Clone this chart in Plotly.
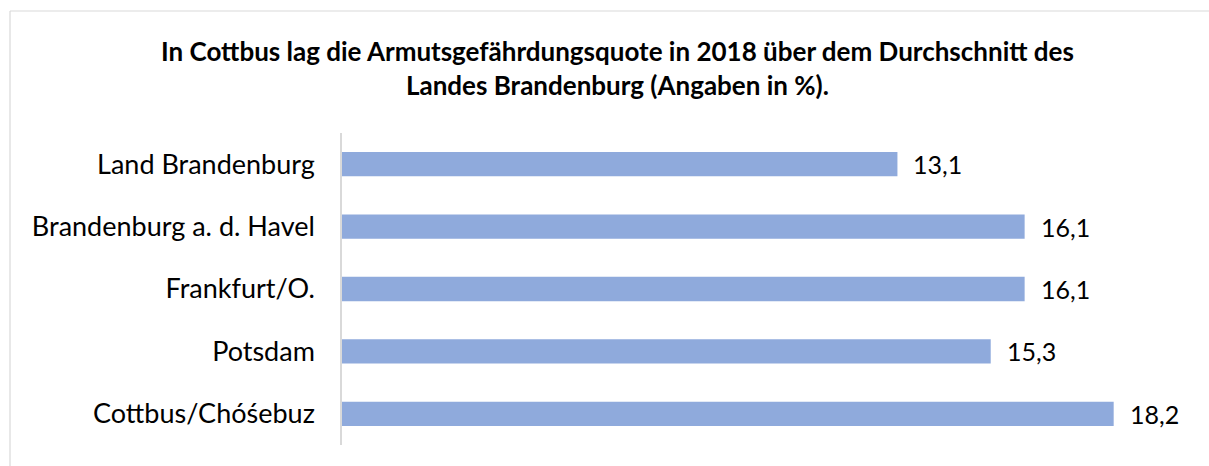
import plotly.graph_objects as go

categories = ["Land Brandenburg", "Brandenburg a. d. Havel", "Frankfurt/O.", "Potsdam", "Cottbus/Chóśebuz"]
values = [13.1, 16.1, 16.1, 15.3, 18.2]
title_text = ("<b>In Cottbus lag die Armutsgefährdungsquote in 2018 über dem Durchschnitt des<br>"
              "Landes Brandenburg (Angaben in %).</b>")

W, H = 1209, 466
L, R, T, B = 342, 19, 133, 21
FONT = "Lato, Calibri, sans-serif"

fig = go.Figure()
fig.add_trace(go.Bar(
    x=values, y=categories, orientation="h",
    marker=dict(color="#8FAADC", line=dict(width=0)),
    hoverinfo="skip",
))

for v, c in zip(values, categories):
    fig.add_annotation(
        x=v, y=c, xref="x", yref="y",
        text=f"{v:.1f}".replace(".", ","),
        showarrow=False, xanchor="left", yanchor="middle",
        xshift=14, font=dict(family=FONT, size=25, color="#000000"),
    )

px = lambda x: (x - L) / (W - L - R)
py = lambda y: 1 - (y - T) / (H - T - B)

# title as annotation (two centred lines)
fig.add_annotation(
    x=px(617), y=py(68), xref="paper", yref="paper",
    text=title_text, showarrow=False, xanchor="center", yanchor="middle",
    align="center", font=dict(family=FONT, size=26, color="#000000"),
)

# frame (top and left edges visible)
fig.add_shape(type="line", xref="paper", yref="paper",
              x0=px(10), x1=px(W + 5), y0=py(11), y1=py(11),
              line=dict(color="#D9D9D9", width=1.2))
fig.add_shape(type="line", xref="paper", yref="paper",
              x0=px(10), x1=px(10), y0=py(11), y1=py(H + 5),
              line=dict(color="#D9D9D9", width=1.2))

fig.update_layout(
    width=W, height=H,
    margin=dict(l=L, r=R, t=T, b=B),
    paper_bgcolor="white", plot_bgcolor="white",
    separators=",.",
    bargap=0.61,
    showlegend=False,
    xaxis=dict(range=[0, 20], visible=False, showgrid=False, zeroline=False, fixedrange=True),
    yaxis=dict(categoryorder="array", categoryarray=categories, autorange="reversed",
               showline=True, linecolor="#D9D9D9", linewidth=1.5,
               ticks="", ticklabelstandoff=20, showgrid=False,
               tickfont=dict(family=FONT, size=27, color="#000000"), fixedrange=True),
)

fig.write_html("out.html", config={"displayModeBar": False},
               post_script="document.body.style.margin='0';")
